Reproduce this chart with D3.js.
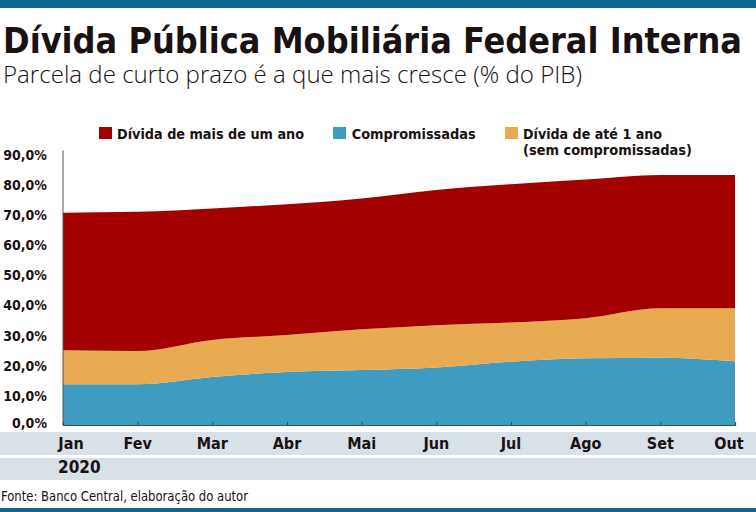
<!DOCTYPE html>
<html>
<head>
<meta charset="utf-8">
<script src="https://cdn.jsdelivr.net/npm/d3@7"></script>
<style>
  body { margin: 0; background: #fff; }
  svg { display: block; }
  text { font-family: "DejaVu Sans Condensed", "DejaVu Sans", sans-serif; fill: #1a1212; }
</style>
</head>
<body>
<svg id="chart" width="756" height="512"></svg>
<script>
// data (% do PIB)
const months = ["Jan", "Fev", "Mar", "Abr", "Mai", "Jun", "Jul", "Ago", "Set", "Out"];
const compromissadas = [13.5, 13.5, 15.9, 17.6, 18.2, 19.1, 21.0, 22.1, 22.3, 21.1];
const ateUmAno = [11.3, 11.0, 12.3, 12.2, 13.5, 14.0, 13.0, 13.3, 16.4, 17.6];
const maisDeUmAno = [45.6, 46.2, 43.6, 43.4, 43.4, 44.8, 45.8, 46.0, 44.2, 44.2];
const yTicks = [0, 10, 20, 30, 40, 50, 60, 70, 80, 90];

const seriesKeys = ["compromissadas", "ateUmAno", "maisDeUmAno"];
const colors = { compromissadas: "#3f9bc0", ateUmAno: "#e9ab52", maisDeUmAno: "#a30000" };

// table for the stack
const table = months.map((m, i) => ({
  month: m,
  compromissadas: compromissadas[i],
  ateUmAno: ateUmAno[i],
  maisDeUmAno: maisDeUmAno[i]
}));

const svg = d3.select("#chart");

// top and bottom bars
svg.append("rect").attr("x", 0).attr("y", 0).attr("width", 756).attr("height", 8).attr("fill", "#0f6690");
svg.append("rect").attr("x", 0).attr("y", 508).attr("width", 756).attr("height", 4).attr("fill", "#0f6690");

// title + subtitle
svg.append("text")
  .attr("x", 3).attr("y", 53)
  .attr("font-size", 36).attr("font-weight", "bold")
  .attr("textLength", 739).attr("lengthAdjust", "spacingAndGlyphs")
  .text("Dívida Pública Mobiliária Federal Interna");

svg.append("text")
  .attr("x", 3).attr("y", 83)
  .attr("font-size", 23)
  .style("font-family", "'Open Sans', 'DejaVu Sans', sans-serif")
  .style("font-weight", 300)
  .attr("textLength", 579).attr("lengthAdjust", "spacingAndGlyphs")
  .text("Parcela de curto prazo é a que mais cresce (% do PIB)");

// scales
const x = d3.scalePoint().domain(months).range([63, 735]);
const y = d3.scaleLinear().domain([0, 90]).range([425, 153.5]);

// x band backgrounds
svg.append("rect").attr("x", 0).attr("y", 432).attr("width", 756).attr("height", 23).attr("fill", "#d8e0e8");
svg.append("rect").attr("x", 0).attr("y", 458).attr("width", 756).attr("height", 22).attr("fill", "#d8e0e8");

// stacked areas
const stack = d3.stack().keys(seriesKeys);
const layers = stack(table);

const area = d3.area()
  .x(d => x(d.data.month))
  .y0(d => y(d[0]))
  .y1(d => y(d[1]))
  .curve(d3.curveMonotoneX);

svg.append("g")
  .selectAll("path")
  .data(layers)
  .join("path")
  .attr("fill", d => colors[d.key])
  .attr("d", area);

// y axis line + labels
svg.append("line")
  .attr("x1", x(months[0])).attr("x2", x(months[0]))
  .attr("y1", y(91)).attr("y2", y(0))
  .attr("stroke", "#555").attr("stroke-width", 1);

svg.append("g")
  .selectAll("text")
  .data(yTicks)
  .join("text")
  .attr("x", 47)
  .attr("y", d => y(d) + (d === 0 ? -2 : 1))
  .attr("dy", "0.36em")
  .attr("text-anchor", "end")
  .attr("font-size", 14)
  .attr("font-weight", "bold")
  .text(d => d3.format(".1f")(d).replace(".", ",") + "%");

// x axis
const xAxis = d3.axisBottom(x).tickSize(-3).tickFormat("");
const gx = svg.append("g")
  .attr("transform", `translate(0,${y(0)})`)
  .call(xAxis);
gx.select(".domain").attr("stroke", "#2f4a5a").attr("stroke-width", 1.2);
gx.selectAll(".tick line").attr("stroke", "#2f4a5a");

svg.append("g")
  .selectAll("text")
  .data(months)
  .join("text")
  .attr("x", (d, i) => x(d) + (i === 0 ? 8 : i === months.length - 1 ? -6 : 0))
  .attr("y", 449)
  .attr("text-anchor", "middle")
  .attr("font-size", 16)
  .attr("font-weight", "bold")
  .text(d => d);

svg.append("text")
  .attr("x", 58).attr("y", 473)
  .attr("font-size", 17).attr("font-weight", "bold")
  .text("2020");

// legend
const legend = [
  { key: "maisDeUmAno", sx: 99, lines: ["Dívida de mais de um ano"], widths: [187] },
  { key: "compromissadas", sx: 333, lines: ["Compromissadas"], widths: [124] },
  { key: "ateUmAno", sx: 505, lines: ["Dívida de até 1 ano", "(sem compromissadas)"], widths: [139, 169] }
];

const lg = svg.append("g");
legend.forEach(item => {
  lg.append("rect")
    .attr("x", item.sx).attr("y", 127)
    .attr("width", 13).attr("height", 12)
    .attr("fill", colors[item.key]);
  item.lines.forEach((line, j) => {
    lg.append("text")
      .attr("x", item.sx + 18 + (item.key === "compromissadas" ? 0.7 : 0))
      .attr("y", 138.5 + j * 16)
      .attr("font-size", 13.5).attr("font-weight", "bold")
      .attr("textLength", item.widths[j]).attr("lengthAdjust", "spacingAndGlyphs")
      .text(line);
  });
});

// source
svg.append("text")
  .attr("x", 1).attr("y", 501)
  .attr("font-size", 14)
  .attr("textLength", 247).attr("lengthAdjust", "spacingAndGlyphs")
  .text("Fonte: Banco Central, elaboração do autor");
</script>
</body>
</html>
